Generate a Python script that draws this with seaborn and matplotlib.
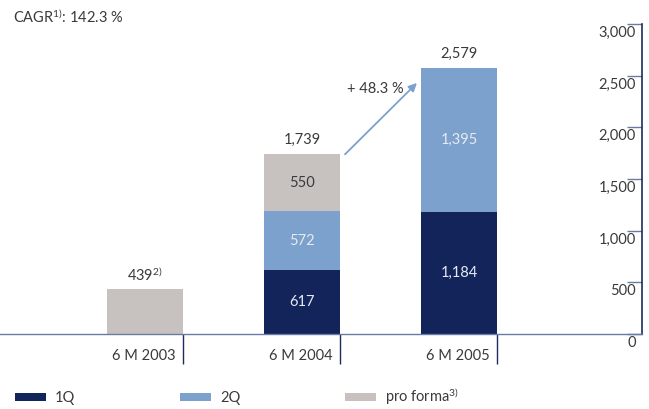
import matplotlib
matplotlib.use("Agg")
import matplotlib.pyplot as plt
import matplotlib.transforms as mtransforms
from matplotlib.patches import Patch
import numpy as np
import pandas as pd
import seaborn as sns

# ---- data ----
categories = ["6 M 2003", "6 M 2004", "6 M 2005"]
q1 = [0, 617, 1184]
q2 = [0, 572, 1395]
pro_forma = [439, 550, 0]
totals = ["439", "1,739", "2,579"]
total_notes = ["2)", "", ""]
growth_label = "+ 48.3 %"
cagr_label = "CAGR$^{1)}$: 142.3 %"
yticks = [0, 500, 1000, 1500, 2000, 2500, 3000]
legend_labels = ["1Q", "2Q", "pro forma$^{3)}$"]

# ---- style ----
sns.set_theme(style="white")
plt.rcParams["font.family"] = ["Lato", "DejaVu Sans"]
plt.rcParams["mathtext.fontset"] = "custom"
plt.rcParams["mathtext.rm"] = "Lato"
plt.rcParams["mathtext.it"] = "Lato"
plt.rcParams["mathtext.bf"] = "Lato:bold"
plt.rcParams["mathtext.default"] = "regular"

C_Q1 = "#13245a"
C_Q2 = "#7ba1cc"
C_PF = "#c7c2bf"
C_TXT = "#3a3a3a"
C_BASE = "#6a7ba3"
C_SPINE = "#1d2b5e"
FS = 10.5

fig = plt.figure(figsize=(6.49, 4.09), dpi=100)
W, H = 649, 409
ax = fig.add_axes([0, (H - 334) / H, 642 / W, 310 / H])

q1a = np.array(q1)
q2a = np.array(q2)
pfa = np.array(pro_forma)
layer_pf = q1a + q2a + pfa
layer_q2 = q1a + q2a
layer_q1 = q1a

BW = 0.484
df = pd.DataFrame({"cat": categories, "pf": layer_pf, "q2": layer_q2, "q1": layer_q1})
for col, c in [("pf", C_PF), ("q2", C_Q2), ("q1", C_Q1)]:
    sns.barplot(data=df, x="cat", y=col, color=c, saturation=1, width=BW,
                linewidth=0, ax=ax)

ax.set_xlim(-145 / 157, (642 - 145) / 157)
ax.set_ylim(0, 3000)
ax.set_xlabel("")
ax.set_ylabel("")

for s in ["top", "left"]:
    ax.spines[s].set_visible(False)
ax.spines["bottom"].set_color(C_BASE)
ax.spines["bottom"].set_linewidth(1.0)
ax.spines["right"].set_color(C_SPINE)
ax.spines["right"].set_linewidth(1.2)

# y ticks on right, inward
ax.yaxis.set_ticks_position("right")
ax.set_yticks(yticks)
ax.tick_params(axis="y", direction="in", length=10.5, width=1.0, color=C_BASE,
               labelright=False, labelleft=False)
ytrans = mtransforms.blended_transform_factory(ax.transAxes, ax.transData)
ylab_trans = mtransforms.offset_copy(ytrans, fig=fig, x=-6, y=-9, units="dots")
for v in yticks:
    ax.text(1.0, v, f"{v:,}", transform=ylab_trans, ha="right", va="center",
            fontsize=FS, color=C_TXT)

# x ticks at right bar edges, pointing down
xpos = np.arange(len(categories))
ax.set_xticks(xpos + BW / 2)
ax.tick_params(axis="x", direction="out", length=21.5, width=1.0, color=C_SPINE,
               labelbottom=False, bottom=True)
xlab_trans = mtransforms.offset_copy(ax.transData, fig=fig, x=-7, y=-22, units="dots")
for i, c in enumerate(categories):
    ax.text(xpos[i] + BW / 2, 0, c, transform=xlab_trans, ha="right", va="center",
            fontsize=FS, color=C_TXT)

# segment labels
for i in range(len(categories)):
    segs = [(0, q1[i], "#e6eaf3"), (q1[i], q2[i], "#e6eaf3"), (q1[i] + q2[i], pro_forma[i], C_TXT)]
    n_seg = sum(1 for s in segs if s[1] > 0)
    if n_seg > 1:
        for base, val, col in segs:
            if val > 0:
                ax.text(xpos[i], base + val / 2, f"{val:,}", ha="center", va="center",
                        fontsize=FS, color=col)

# total labels
tot_trans = mtransforms.offset_copy(ax.transData, fig=fig, x=0, y=14, units="dots")
for i in range(len(categories)):
    lab = totals[i] + (f"$^{{{total_notes[i]}}}$" if total_notes[i] else "")
    ax.text(xpos[i], layer_pf[i], lab, transform=tot_trans, ha="center", va="center",
            fontsize=FS, color=C_TXT)

# growth arrow
start = (1 + BW / 2 + 0.032, layer_pf[1])
end = (2 - BW / 2 - 0.026, layer_pf[2] - 150)
ax.annotate("", xy=end, xytext=start,
            arrowprops=dict(arrowstyle="-|>", color=C_Q2, lw=1.3, mutation_scale=12,
                            shrinkA=0, shrinkB=0))
mid = ((start[0] + end[0]) / 2, (start[1] + end[1]) / 2)
ax.annotate(growth_label, xy=mid, xytext=(-4, 21), textcoords="offset points",
            ha="center", va="center", fontsize=FS, color=C_TXT)

# CAGR
fig.text(13 / W, 1 - 17 / H, cagr_label, ha="left", va="center", fontsize=FS, color=C_TXT)

# legend
handles = [Patch(facecolor=c, edgecolor="none") for c in [C_Q1, C_Q2, C_PF]]
fig.legend(handles, legend_labels, ncol=3, loc="center left",
           bbox_to_anchor=(15 / W, 1 - 396 / H), frameon=False, fontsize=FS,
           handlelength=2.12, handleheight=0.48, handletextpad=0.62,
           columnspacing=7.2, borderpad=0, borderaxespad=0, labelcolor=C_TXT)

fig.savefig("out.png", dpi=100)
